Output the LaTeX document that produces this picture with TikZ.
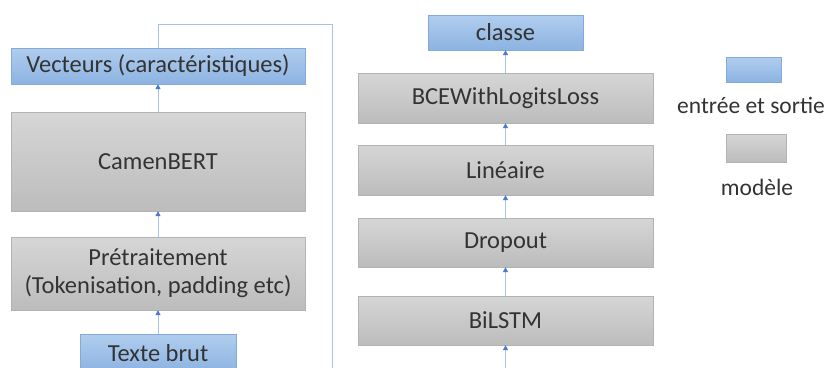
\documentclass[tikz,border=0pt]{standalone}
\usepackage{fontspec}
\setmainfont{Carlito}
\usetikzlibrary{arrows.meta}
\definecolor{txtc}{HTML}{333333}
\definecolor{grayT}{HTML}{D6D6D6}
\definecolor{grayB}{HTML}{BCBCBC}
\definecolor{blueT}{HTML}{B0CDEE}
\definecolor{blueB}{HTML}{8DB3E2}
\definecolor{linec}{HTML}{A9C2EC}
\definecolor{tipc}{HTML}{4A7BD0}
\tikzset{
  base/.style={inner sep=0pt, text=txtc, font=\fontsize{24.5}{28}\selectfont, align=center},
  graybox/.style={base, top color=grayT, bottom color=grayB, draw=grayB!95!black, line width=0.3pt},
  bluebox/.style={base, top color=blueT, bottom color=blueB, draw=blueB!95!black, line width=0.3pt},
  lbl/.style={base, font=\fontsize{23.5}{28}\selectfont},
  conn/.style={draw=linec, line width=1pt},
  arr/.style={conn, -{Triangle[length=5pt,width=5pt,color=tipc]}},
}
\begin{document}
\begin{tikzpicture}[x=1pt,y=-1pt]
\useasboundingbox (0,0) rectangle (829,367);
% left column
\node[bluebox, minimum width=294pt, minimum height=36pt] (vec) at (158,66) {Vecteurs (caractéristiques)};
\node[graybox, minimum width=294pt, minimum height=99pt] (cam) at (158,161.5) {CamenBERT};
\node[graybox, minimum width=294pt, minimum height=73pt] (pre) at (158,273.5) {Prétraitement\\(Tokenisation, padding etc)};
\node[bluebox, minimum width=156pt, minimum height=38pt] (txt) at (158,353) {Texte brut};
% right column
\node[bluebox, minimum width=155pt, minimum height=35pt] (cls) at (505.5,32.5) {classe};
\node[graybox, minimum width=295pt, minimum height=50pt] (bce) at (505.5,98) {BCEWithLogitsLoss};
\node[graybox, minimum width=295pt, minimum height=50pt] (lin) at (505.5,170) {Linéaire};
\node[graybox, minimum width=295pt, minimum height=49pt] (drop) at (505.5,242.5) {Dropout};
\node[graybox, minimum width=295pt, minimum height=49pt] (bil) at (505.5,320.5) {BiLSTM};
% legend
\node[bluebox, minimum width=55pt, minimum height=25pt] (lgb) at (753.5,69.5) {};
\node[lbl] (lgbt) at (751,105) {entrée et sortie};
\node[lbl] (lggt) at (757,187) {modèle};
\node[graybox, minimum width=60pt, minimum height=28pt] (lgg) at (756,148) {};
% connectors
\coordinate (c1) at (158,24);
\coordinate (c2) at (332,24);
\coordinate (c3) at (332,370);
\coordinate (c4) at (505.5,370);
\draw[conn] (vec.north) -- (c1) -- (c2) -- (c3);
\draw[arr] (c4) -- (bil.south);
\draw[arr] (txt.north) -- (pre.south);
\draw[arr] (pre.north) -- (cam.south);
\draw[arr] (cam.north) -- (vec.south);
\draw[arr] (bil.north) -- (drop.south);
\draw[arr] (drop.north) -- (lin.south);
\draw[arr] (lin.north) -- (bce.south);
\draw[arr] (bce.north) -- (cls.south);
\end{tikzpicture}
\end{document}
